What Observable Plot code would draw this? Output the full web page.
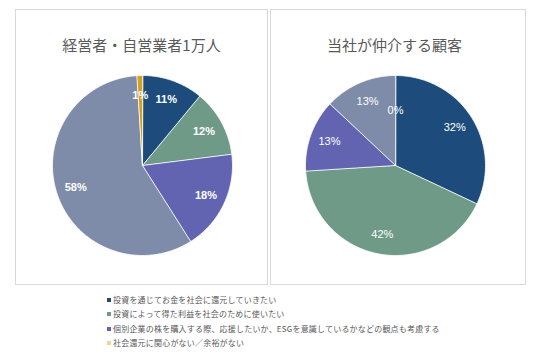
<!DOCTYPE html>
<html><head><meta charset="utf-8">
<script src="https://cdn.jsdelivr.net/npm/d3@7"></script>
<script src="https://cdn.jsdelivr.net/npm/@observablehq/plot@0.6"></script>
<style>
body{margin:0;background:#fff;width:536px;height:356px;position:relative;overflow:hidden;font-family:"Noto Sans CJK JP","Noto Sans",sans-serif;}
.panel{position:absolute;top:9px;height:276px;border:1px solid #d9d9d9;box-sizing:border-box;}
.title{position:absolute;top:35px;width:260px;text-align:center;font-size:15px;line-height:20px;color:#595959;}
.pie{position:absolute;}
#legend{position:absolute;left:107px;top:293px;font-size:8px;color:#595959;letter-spacing:0.2px;}
.row{height:14.3px;line-height:14px;white-space:nowrap;}
.sw{display:inline-block;width:4px;height:4px;margin-right:2px;vertical-align:1px;}
</style></head>
<body>
<script>
// ---- data ----
const sliceKeys = ["還元したい", "利益を使いたい", "観点も考慮", "その他", "関心がない"];
const sliceColors = ["#1d4c7c", "#6f9a88", "#6264b2", "#7f8ca9", "#d4a11c"];
const leftTitle = "経営者・自営業者1万人";
const leftValues = [11, 12, 18, 58, 1];
const rightTitle = "当社が仲介する顧客";
const rightValues = [32, 42, 13, 13, 0];
const legendLabels = [
  "投資を通じてお金を社会に還元していきたい",
  "投資によって得た利益を社会のために使いたい",
  "個別企業の株を購入する際、応援したいか、ESGを意識しているかなどの観点も考慮する",
  "社会還元に関心がない／余裕がない"
];
const legendKeys = ["還元したい", "利益を使いたい", "観点も考慮", "関心がない"];

function addDiv(cls, style, html) {
  const d = document.createElement("div");
  d.className = cls; d.setAttribute("style", style);
  if (html != null) d.innerHTML = html;
  document.body.appendChild(d);
  return d;
}

addDiv("panel", "left:15px;width:253px;");
addDiv("panel", "left:270px;width:256px;");

function pie(values, bold) {
  const total = d3.sum(values);
  const wedges = [], labels = [];
  let cum = 0;
  values.forEach((v, i) => {
    const a0 = cum / total * 2 * Math.PI;
    cum += v;
    const a1 = cum / total * 2 * Math.PI;
    if (v > 0) {
      const n = Math.max(2, Math.ceil((a1 - a0) / (Math.PI / 180)));
      wedges.push({key: sliceKeys[i], x: 0, y: 0});
      for (let t = 0; t <= n; t++) {
        const a = a0 + (a1 - a0) * t / n;
        wedges.push({key: sliceKeys[i], x: Math.sin(a), y: Math.cos(a)});
      }
    }
    const am = (a0 + a1) / 2, r = v > 0 ? 0.78 : 0.61;
    labels.push({x: r * Math.sin(am), y: r * Math.cos(am), text: v + "%"});
  });
  const R = 100 / 90;
  return Plot.plot({
    width: 200, height: 200, margin: 0,
    x: {domain: [-R, R], axis: null},
    y: {domain: [-R, R], axis: null},
    color: {domain: sliceKeys, range: sliceColors},
    style: {background: "transparent", overflow: "visible"},
    marks: [
      Plot.line(wedges, {x: "x", y: "y", z: "key", fill: "key", stroke: "#ffffff", strokeWidth: 0.8, curve: "linear-closed"}),
      Plot.text(labels, {x: "x", y: "y", text: "text", fill: "white", fontSize: 11,
        fontWeight: bold ? "bold" : "normal", fontFamily: "'Liberation Sans', Arial, sans-serif"})
    ]
  });
}

const specs = [
  {title: leftTitle, values: leftValues, cx: 141.5, cy: 165, bold: true},
  {title: rightTitle, values: rightValues, cx: 394.5, cy: 165, bold: false}
];
for (const s of specs) {
  addDiv("title", `left:${s.cx - 130}px;`, s.title);
  const p = pie(s.values, s.bold);
  const wrap = addDiv("pie", `left:${s.cx - 100}px;top:${s.cy - 100}px;width:200px;height:200px;`);
  wrap.appendChild(p);
}

const lg = addDiv("", "", null);
lg.id = "legend";
legendLabels.forEach((lab, i) => {
  const c = sliceColors[sliceKeys.indexOf(legendKeys[i])];
  const row = document.createElement("div");
  row.className = "row";
  row.innerHTML = `<span class="sw" style="background:${c};${i === 3 ? "opacity:0.45;" : ""}"></span>${lab}`;
  lg.appendChild(row);
});
</script>
</body></html>
